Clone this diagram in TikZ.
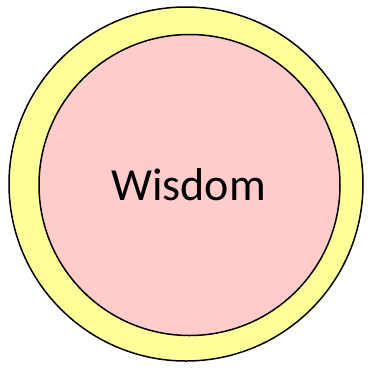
\documentclass[tikz,border=0pt]{standalone}
\usepackage{fontspec}
\setmainfont{Carlito}
\definecolor{outerfill}{HTML}{FFFF99}
\definecolor{innerfill}{HTML}{FFCCCC}
\begin{document}
\begin{tikzpicture}[x=1pt,y=-1pt,
  ring/.style={draw=black,line width=1.5pt}]
\useasboundingbox (0,0) rectangle (372,368);
\draw[ring,fill=outerfill] (186,184) circle (177);
\draw[ring,fill=innerfill] (189.5,185) circle (150.5);
\node[font=\fontsize{46}{52}\selectfont,inner sep=0pt,anchor=base] (w) at (188.5,200) {Wisdom};
\end{tikzpicture}
\end{document}
